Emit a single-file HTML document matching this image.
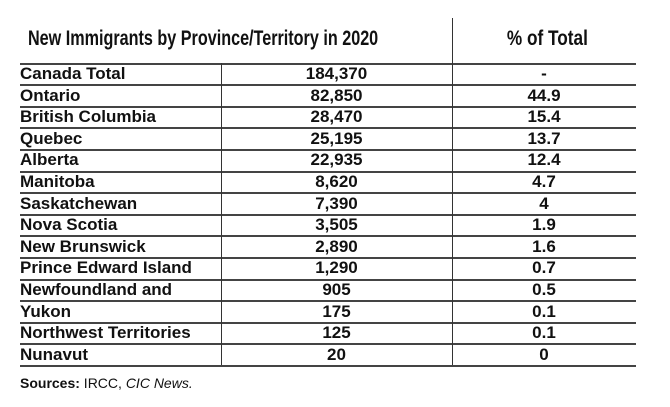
<!DOCTYPE html>
<html><head><meta charset="utf-8"><style>
body{margin:0;width:670px;height:407px;background:#fff;position:relative;font-family:"Liberation Sans",sans-serif;color:#111;overflow:hidden}
.a{position:absolute;white-space:nowrap}
.t{display:inline-block;transform-origin:center}
.l .t{transform-origin:left}
.hl{position:absolute;left:20px;width:616px;height:2px;background:#444}
.vl{position:absolute;width:1px;background:#333}
</style></head><body>
<div class="a l" style="left:28px;top:27px;font-size:21px;font-weight:bold"><span class="t" style="transform:scaleX(0.77)">New Immigrants by Province/Territory in 2020</span></div>
<div class="a" style="left:458px;width:178px;top:27px;text-align:center;font-size:21px;font-weight:bold"><span class="t" style="transform:scaleX(0.82)">% of Total</span></div>
<div class="vl" style="left:452px;top:18px;height:45px"></div>
<div id="rows"></div>
<div class="a l" style="left:20px;top:375px;font-size:14px"><span class="t"><b>Sources:</b> IRCC, <i>CIC News.</i></span></div>
<script>
const regions=["Canada Total","Ontario","British Columbia","Quebec","Alberta","Manitoba","Saskatchewan","Nova Scotia","New Brunswick","Prince Edward Island","Newfoundland and","Yukon","Northwest Territories","Nunavut"];
const counts=["184,370","82,850","28,470","25,195","22,935","8,620","7,390","3,505","2,890","1,290","905","175","125","20"];
const percents=["-","44.9","15.4","13.7","12.4","4.7","4","1.9","1.6","0.7","0.5","0.1","0.1","0"];
const c=document.getElementById('rows');
const top0=63,rh=21.6;
let h='';
for(let i=0;i<=regions.length;i++){h+=`<div class="hl" style="top:${top0+i*rh-0.5}px"></div>`;}
h+=`<div class="vl" style="left:221px;top:${top0}px;height:${regions.length*rh}px"></div>`;
h+=`<div class="vl" style="left:452px;top:${top0}px;height:${regions.length*rh}px"></div>`;
regions.forEach((r,i)=>{const y=top0+i*rh+1;
h+=`<div class="a l" style="left:20px;top:${y}px;font-size:17px;font-weight:bold"><span class="t">${r}</span></div>`;
h+=`<div class="a" style="left:221px;width:231px;top:${y}px;text-align:center;font-size:17px;font-weight:bold"><span class="t">${counts[i]}</span></div>`;
h+=`<div class="a" style="left:452px;width:184px;top:${y}px;text-align:center;font-size:17px;font-weight:bold"><span class="t">${percents[i]}</span></div>`;});
c.innerHTML=h;
</script>
</body></html>
